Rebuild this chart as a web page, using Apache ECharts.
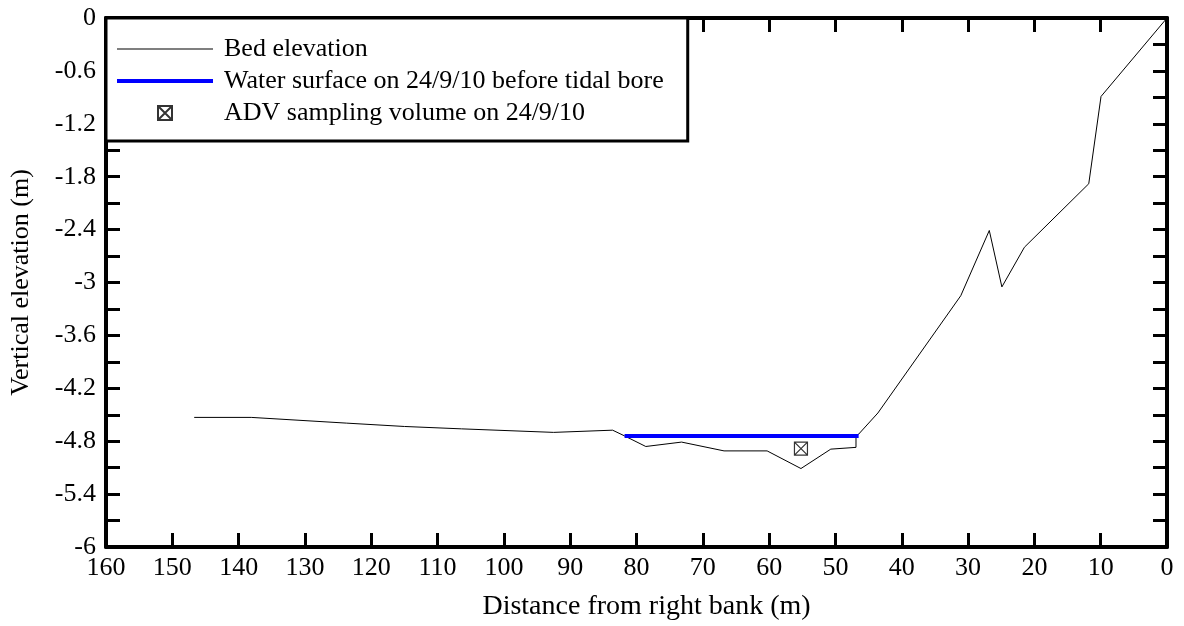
<!DOCTYPE html>
<html>
<head>
<meta charset="utf-8">
<script src="https://cdn.jsdelivr.net/npm/echarts@6/dist/echarts.min.js"></script>
<style>
  html, body { margin: 0; padding: 0; background: #fff; }
  #chart { width: 1184px; height: 626px; }
</style>
</head>
<body>
<div id="chart"></div>
<script>
// Cross-section survey: distance from the right bank (m) and bed elevation (m)
const bedDistance  = [146.7, 138.1, 123.7, 115.0, 106.4, 92.5, 83.6, 81.8, 78.6, 73.2, 66.8, 60.3, 55.2, 50.7, 46.9, 46.9, 46.5, 43.6, 31.1, 26.8, 24.9, 21.5, 11.8, 9.95, 0];
const bedElevation = [-4.53, -4.53, -4.595, -4.633, -4.66, -4.70, -4.675, -4.74, -4.86, -4.81, -4.91, -4.91, -5.11, -4.89, -4.87, -4.74, -4.72, -4.48, -3.15, -2.41, -3.05, -2.60, -1.88, -0.89, 0];

// Free surface before the bore, spanning the wetted channel
const waterDistance  = [81.8, 46.5];
const waterElevation = [-4.74, -4.74];

// ADV sampling volume position
const advDistance  = [55.2];
const advElevation = [-4.885];

const seriesNames = [
  'Bed elevation',
  'Water surface on 24/9/10 before tidal bore',
  'ADV sampling volume on 24/9/10'
];

const FONT = 'Liberation Serif';
const pairs = (xs, ys) => xs.map((x, i) => [x, ys[i]]);

const boxSymbol = 'path://M0 0H10V10H0Z M0 0L10 10 M10 0L0 10';

const axisLine = { show: true, onZero: false, lineStyle: { color: '#000', width: 4 } };
const tick = { show: true, inside: true, length: 14, lineStyle: { color: '#000', width: 3 } };
const labelStyle = { color: '#000', fontFamily: FONT, fontSize: 26 };

const xBase = { type: 'value', min: 0, max: 160, interval: 10, inverse: true, splitLine: { show: false }, axisLine, axisTick: tick };
const yBase = {
  type: 'value', min: -6, max: 0, interval: 0.6, splitLine: { show: false }, axisLine, axisTick: tick,
  minorTick: { show: true, splitNumber: 2, length: 14, lineStyle: { color: '#000', width: 3 } }
};

const chart = echarts.init(document.getElementById('chart'), null, { renderer: 'canvas' });
chart.setOption({
  animation: false,
  backgroundColor: '#fff',
  grid: { left: 106, right: 17, top: 18, bottom: 79, containLabel: false, outerBoundsMode: 'none' },
  xAxis: [
    Object.assign({}, xBase, {
      position: 'bottom',
      name: 'Distance from right bank (m)',
      nameLocation: 'middle', nameGap: 46,
      nameTextStyle: Object.assign({}, labelStyle, { fontSize: 28, padding: [0, 0, 0, 20] }),
      axisLabel: Object.assign({}, labelStyle, { margin: 8 })
    }),
    Object.assign({}, xBase, { position: 'top', axisLabel: { show: false } })
  ],
  yAxis: [
    Object.assign({}, yBase, {
      position: 'left',
      name: 'Vertical elevation (m)',
      nameLocation: 'middle', nameGap: 72,
      nameTextStyle: labelStyle,
      axisLabel: Object.assign({}, labelStyle, { margin: 10, formatter: v => String(+v.toFixed(1)) })
    }),
    Object.assign({}, yBase, { position: 'right', axisLabel: { show: false } })
  ],
  legend: {
    orient: 'vertical', left: 106, top: 18,
    padding: [18, 24, 15, 11], itemGap: 6, itemWidth: 96, itemHeight: 14,
    backgroundColor: '#fff', borderColor: '#000', borderWidth: 3,
    selectedMode: false,
    textStyle: Object.assign({}, labelStyle, { padding: [0, 0, 0, 6] }),
    data: [
      { name: seriesNames[0], icon: 'path://M0 0H96V1H0Z' },
      { name: seriesNames[1], icon: 'path://M0 0H96V4H0Z' },
      { name: seriesNames[2] }
    ]
  },
  series: [
    {
      name: seriesNames[0], type: 'line', symbol: 'none',
      lineStyle: { color: '#000', width: 1 }, itemStyle: { color: '#000' },
      data: pairs(bedDistance, bedElevation)
    },
    {
      name: seriesNames[1], type: 'line', symbol: 'none',
      lineStyle: { color: '#0000ff', width: 4 }, itemStyle: { color: '#0000ff' },
      data: pairs(waterDistance, waterElevation)
    },
    {
      name: seriesNames[2], type: 'scatter', symbol: boxSymbol, symbolSize: 13,
      itemStyle: { color: 'rgba(0,0,0,0)', borderColor: '#000', borderWidth: 1.2 },
      data: pairs(advDistance, advElevation)
    }
  ]
});
</script>
</body>
</html>
